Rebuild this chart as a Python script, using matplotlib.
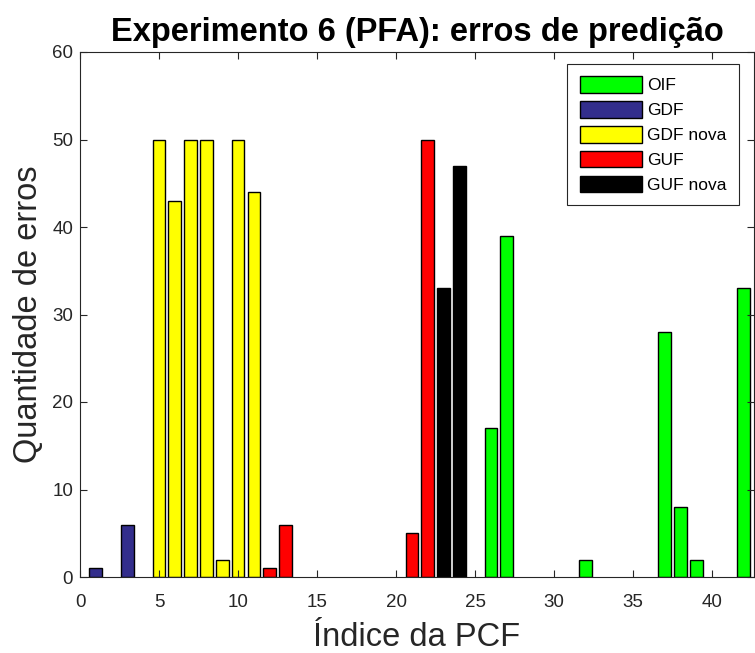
import numpy as np
from matplotlib import pyplot as plt

plt.rcParams['font.family'] = ['Liberation Sans', 'DejaVu Sans']

# series: PCF index -> number of errors
oif_x = [26, 27, 32, 37, 38, 39, 42]
oif_y = [17, 39, 2, 28, 8, 2, 33]
gdf_x = [1, 3]
gdf_y = [1, 6]
gdf_nova_x = [5, 6, 7, 8, 9, 10, 11]
gdf_nova_y = [50, 43, 50, 50, 2, 50, 44]
guf_x = [12, 13, 21, 22]
guf_y = [1, 6, 5, 50]
guf_nova_x = [23, 24]
guf_nova_y = [33, 47]

labels = ["OIF", "GDF", "GDF nova", "GUF", "GUF nova"]
colors = ['#00ff00', '#332e8c', '#ffff00', '#ff0000', '#000000']
series = [(oif_x, oif_y), (gdf_x, gdf_y), (gdf_nova_x, gdf_nova_y),
          (guf_x, guf_y), (guf_nova_x, guf_nova_y)]

fig = plt.figure(figsize=(7.55, 6.53), dpi=100)
ax = fig.add_axes([80/755, 76/653, 674/755, 525/653])

handles = []
for (x, y), color in zip(series, colors):
    h = ax.bar(x, y, width=0.8, color=color, edgecolor='black', linewidth=1)
    handles.append(h)

ax.set_xlim(0, 42.65)
ax.set_ylim(0, 60)
ax.set_xticks(np.arange(0, 45, 5))
ax.set_yticks(np.arange(0, 70, 10))
ax.tick_params(direction='in', length=5, width=0.8, colors='#262626',
               labelsize=13.5, top=True, right=True)
ax.tick_params(axis='x', pad=12)
ax.tick_params(axis='y', pad=5)
for s in ax.spines.values():
    s.set_color('#262626')
    s.set_linewidth(0.8)

ax.set_title("Experimento 6 (PFA): erros de predição",
             fontsize=23.5, fontweight='bold', pad=8)
ax.set_xlabel("Índice da PCF", fontsize=23.5, color='#262626', labelpad=8)
ax.set_ylabel("Quantidade de erros", fontsize=23.5, color='#262626', labelpad=6)

leg = ax.legend(handles, labels, loc='upper right',
                bbox_to_anchor=(739/755, 589/653), bbox_transform=fig.transFigure,
                fontsize=12.5, handlelength=3.6, handleheight=1.1,
                labelspacing=0.44, handletextpad=0.3, borderaxespad=0,
                borderpad=0.7, fancybox=False, framealpha=1)
leg.get_frame().set_edgecolor('#262626')
leg.get_frame().set_linewidth(0.8)

fig.savefig("out.png", dpi=100)
